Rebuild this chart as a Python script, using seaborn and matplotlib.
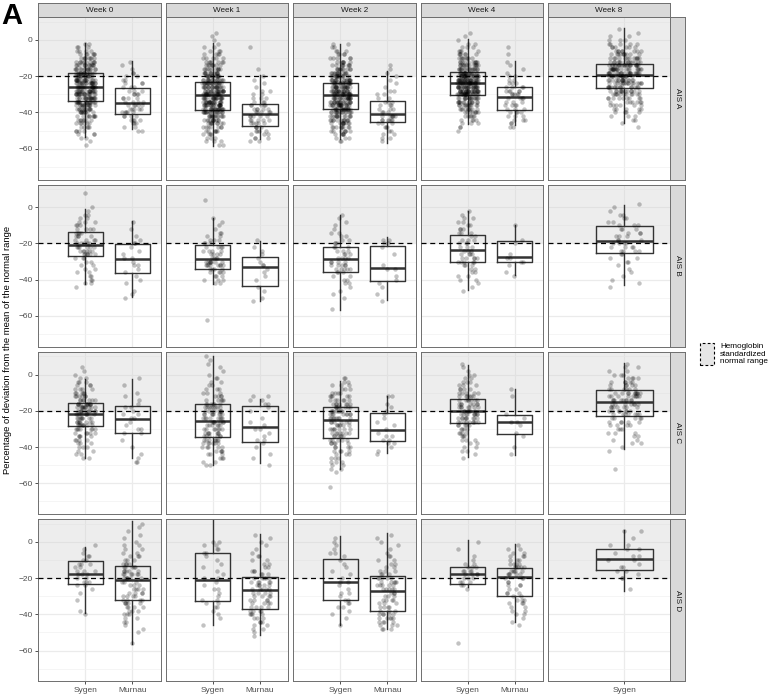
import numpy as np
import pandas as pd
import matplotlib
matplotlib.use("Agg")
import matplotlib.pyplot as plt
from matplotlib.patches import Rectangle
import seaborn as sns

weeks = ["Week 0", "Week 1", "Week 2", "Week 4", "Week 8"]
ais_levels = ["AIS A", "AIS B", "AIS C", "AIS D"]
drugs = ["Sygen", "Murnau"]
normal_low = -20
ylabel = "Percentage of deviation from the mean of the normal range"
legend_label = "Hemoglobin\nstandardized\nnormal range"

# box statistics per week: [lower whisker, q1, median, q3, upper whisker]
a_sygen_box = [[-53.8, -33.9, -25.8, -18.4, -1.5],
               [-58.4, -38.5, -30.6, -23.2, -1.8],
               [-54.9, -37.9, -30.6, -23.9, -2.4],
               [-46.4, -30.6, -23.8, -17.9, 0.4],
               [-46.0, -26.7, -19.2, -13.3, 6.4]]
a_murnau_box = [[-49.3, -41.0, -34.8, -26.3, -11.6],
                [-54.9, -47.3, -41.0, -35.4, -19.2],
                [-57.0, -45.5, -40.9, -33.9, -17.1],
                [-47.0, -38.5, -31.3, -26.1, -11.6]]
b_sygen_box = [[-42.3, -26.9, -21.0, -13.4, -0.9],
               [-42.5, -34.0, -28.3, -21.0, -6.1],
               [-56.5, -35.7, -28.3, -21.9, -4.4],
               [-45.5, -30.0, -23.8, -15.5, -2.0],
               [-43.1, -25.2, -18.4, -10.5, 1.1]]
b_murnau_box = [[-49.5, -36.5, -28.3, -20.4, -7.5],
                [-51.9, -43.6, -32.9, -27.6, -18.8],
                [-51.4, -40.9, -33.7, -21.5, -16.6],
                [-37.2, -30.0, -27.4, -18.8, -9.9]]
c_sygen_box = [[-46.2, -28.2, -21.5, -15.8, -2.6],
               [-50.1, -34.4, -25.6, -16.4, 10.1],
               [-52.1, -35.0, -25.0, -17.9, -3.3],
               [-45.7, -26.9, -20.1, -13.6, 5.1],
               [-41.0, -22.7, -15.1, -8.5, 6.4]]
c_murnau_box = [[-46.2, -32.4, -24.7, -17.5, -2.2],
                [-48.6, -37.2, -28.9, -17.5, -13.4],
                [-43.3, -36.6, -30.8, -21.0, -11.6],
                [-44.2, -32.8, -26.3, -22.1, -7.9]]
d_sygen_box = [[-39.1, -23.4, -17.7, -10.7, -2.8],
               [-45.9, -32.4, -21.0, -6.3, 14.0],
               [-46.0, -32.0, -22.0, -9.4, 3.0],
               [-25.0, -23.0, -17.7, -14.0, 1.0],
               [-26.9, -15.6, -9.6, -3.7, 6.5]]
d_murnau_box = [[-56.5, -32.2, -21.2, -13.3, 11.6],
                [-51.4, -37.0, -26.5, -19.2, 4.2],
                [-48.0, -38.0, -27.0, -19.0, 5.0],
                [-44.2, -30.0, -19.5, -14.2, -1.3]]

# individual patients, read as counts per 2-point step starting at *_start
a_sygen_start = [-58, -58, -56, -50, -48]
a_sygen_counts = [
    [1, 1, 2, 3, 4, 5, 6, 7, 9, 10, 12, 14, 18, 19, 19, 19, 19, 19, 19, 18, 16, 14, 12, 10, 8, 6, 4, 3, 2],
    [2, 3, 3, 4, 6, 7, 9, 11, 14, 17, 20, 20, 20, 20, 20, 20, 20, 20, 16, 14, 12, 10, 8, 7, 5, 4, 3, 2, 1, 1, 1, 1],
    [2, 3, 5, 7, 9, 10, 12, 13, 15, 20, 20, 20, 20, 20, 20, 20, 20, 17, 15, 12, 10, 8, 6, 5, 4, 3, 2, 2],
    [1, 2, 3, 4, 6, 8, 10, 12, 14, 16, 27, 27, 26, 27, 27, 26, 18, 16, 13, 10, 8, 6, 4, 3, 2, 1, 1, 1],
    [1, 1, 2, 3, 4, 5, 6, 7, 9, 11, 13, 16, 16, 16, 15, 21, 21, 21, 14, 12, 10, 8, 6, 5, 3, 2, 1, 1]]
a_murnau_start = [-50, -56, -56, -48]
a_murnau_counts = [
    [2, 2, 3, 4, 4, 5, 5, 5, 4, 4, 4, 3, 3, 3, 2, 2, 2, 1, 1, 1],
    [2, 3, 3, 4, 4, 5, 5, 5, 5, 5, 5, 3, 3, 2, 2, 1, 1, 1, 1, 0, 1, 0, 0, 0, 0, 0, 1],
    [1, 2, 2, 2, 3, 3, 6, 6, 3, 3, 3, 3, 2, 2, 2, 1, 1, 1, 1, 1, 1, 1],
    [2, 2, 3, 3, 4, 3, 4, 3, 4, 5, 5, 4, 3, 2, 2, 1, 1, 1, 1, 0, 1, 0, 1]]
b_sygen_start = [-44, -62, -56, -46, -44]
b_sygen_counts = [
    [1, 2, 2, 2, 2, 2, 2, 2, 3, 6, 6, 6, 5, 4, 4, 4, 4, 3, 3, 2, 2, 1, 1, 0, 0, 0, 1],
    [1, 0, 0, 0, 0, 0, 0, 0, 0, 0, 2, 3, 3, 4, 4, 8, 8, 4, 4, 4, 4, 3, 3, 2, 2, 1, 1, 1, 1, 0, 0, 0, 0, 1],
    [1, 0, 0, 1, 1, 1, 1, 2, 2, 2, 3, 5, 5, 4, 4, 3, 3, 3, 3, 2, 2, 2, 1, 1, 1, 1, 1],
    [1, 1, 1, 2, 2, 2, 2, 3, 5, 5, 4, 3, 3, 3, 3, 2, 3, 3, 2, 2, 2, 1, 1],
    [1, 1, 1, 1, 1, 1, 1, 2, 2, 2, 4, 4, 4, 3, 3, 3, 3, 3, 2, 2, 2, 1, 1, 1]]
b_murnau_start = [-50, -52, -52, -38]
b_murnau_counts = [
    [1, 1, 1, 0, 1, 1, 1, 1, 1, 2, 1, 2, 1, 1, 1, 2, 1, 1, 0, 1, 0, 1],
    [1, 1, 0, 1, 1, 0, 1, 1, 1, 1, 2, 1, 1, 1, 1, 1, 0, 1],
    [1, 0, 1, 0, 1, 1, 1, 1, 0, 2, 1, 0, 0, 1, 0, 1, 2, 2],
    [1, 1, 0, 1, 2, 2, 1, 0, 0, 1, 1, 0, 0, 0, 1]]
c_sygen_start = [-46, -50, -62, -46, -52]
c_sygen_counts = [
    [2, 2, 2, 3, 3, 4, 4, 5, 7, 8, 8, 8, 8, 11, 11, 11, 7, 6, 5, 4, 3, 3, 2, 1, 1, 1],
    [2, 2, 3, 3, 4, 5, 6, 7, 6, 7, 7, 6, 7, 8, 8, 8, 8, 6, 5, 4, 3, 3, 2, 2, 2, 1, 1, 1, 1, 1, 1],
    [1, 0, 0, 0, 1, 2, 2, 3, 3, 3, 4, 4, 5, 5, 6, 7, 7, 6, 6, 8, 8, 8, 8, 7, 6, 5, 4, 3, 3, 2, 2],
    [1, 1, 2, 2, 2, 3, 3, 4, 4, 5, 9, 9, 9, 7, 7, 7, 7, 6, 5, 4, 3, 3, 2, 2, 1, 1, 1],
    [1, 0, 0, 0, 0, 1, 1, 2, 2, 2, 3, 3, 4, 5, 5, 7, 7, 7, 7, 9, 9, 10, 6, 5, 5, 4, 3, 2, 2, 1]]
c_murnau_start = [-48, -50, -44, -44]
c_murnau_counts = [
    [2, 1, 1, 0, 1, 0, 1, 0, 2, 2, 1, 1, 2, 2, 1, 2, 1, 1, 1, 1, 0, 1, 0, 1],
    [1, 0, 1, 1, 0, 1, 1, 2, 1, 1, 2, 1, 1, 1, 0, 1, 1, 2, 2, 2],
    [1, 1, 1, 2, 2, 2, 1, 1, 1, 1, 1, 1, 1, 1, 1, 0, 2],
    [1, 0, 1, 0, 0, 1, 1, 0, 1, 2, 1, 1, 0, 0, 0, 0, 1, 0, 1]]
d_sygen_start = [-40, -46, -46, -56, -26]
d_sygen_counts = [
    [1, 1, 0, 0, 1, 0, 1, 1, 2, 3, 2, 3, 3, 2, 3, 2, 2, 1, 1, 1],
    [1, 0, 1, 1, 1, 2, 2, 2, 1, 1, 2, 1, 1, 2, 1, 1, 1, 1, 1, 1, 2, 2, 2, 2],
    [1, 0, 1, 1, 1, 2, 2, 2, 1, 2, 1, 1, 2, 1, 1, 1, 1, 1, 1, 1, 2, 1, 1, 1, 1, 0],
    [1, 0, 0, 0, 0, 0, 0, 0, 0, 0, 0, 0, 0, 0, 0, 1, 2, 3, 3, 4, 4, 3, 2, 1, 1, 0, 1, 0, 1],
    [1, 0, 0, 2, 1, 2, 2, 1, 2, 2, 1, 2, 2, 0, 1, 0, 2]]
d_murnau_start = [-56, -52, -48, -46]
d_murnau_counts = [
    [1, 0, 0, 1, 1, 1, 2, 2, 3, 3, 4, 5, 4, 4, 4, 4, 3, 3, 6, 6, 5, 5, 4, 3, 3, 2, 2, 2, 1, 1, 1, 1, 1, 1],
    [1, 1, 2, 2, 3, 3, 4, 4, 4, 4, 4, 4, 4, 5, 5, 5, 5, 3, 3, 2, 2, 2, 2, 1, 1, 1, 1, 1, 1],
    [3, 3, 4, 5, 5, 3, 4, 3, 4, 3, 3, 5, 5, 5, 5, 3, 3, 2, 2, 2, 2, 1, 1, 1, 1, 1, 1],
    [1, 1, 1, 2, 2, 2, 3, 3, 2, 3, 2, 3, 2, 3, 5, 5, 5, 4, 3, 3, 2, 2, 1]]

boxes = {"AIS A": (a_sygen_box, a_murnau_box), "AIS B": (b_sygen_box, b_murnau_box),
         "AIS C": (c_sygen_box, c_murnau_box), "AIS D": (d_sygen_box, d_murnau_box)}
points = {"AIS A": (a_sygen_start, a_sygen_counts, a_murnau_start, a_murnau_counts),
          "AIS B": (b_sygen_start, b_sygen_counts, b_murnau_start, b_murnau_counts),
          "AIS C": (c_sygen_start, c_sygen_counts, c_murnau_start, c_murnau_counts),
          "AIS D": (d_sygen_start, d_sygen_counts, d_murnau_start, d_murnau_counts)}


def expand(start, counts):
    values = start + 2 * np.arange(len(counts))
    return np.repeat(values, counts)


def box_dict(s):
    return dict(whislo=s[0], q1=s[1], med=s[2], q3=s[3], whishi=s[4], fliers=[])


plt.rcParams["font.family"] = ["Liberation Sans", "DejaVu Sans"]
np.random.seed(3)

W, H = 771, 696
fig = plt.figure(figsize=(W / 100, H / 100), dpi=100)


def frac(x0, y0, w, h):
    return [x0 / W, 1 - (y0 + h) / H, w / W, h / H]


panel_w, panel_h = 122.4, 162.2
col_x = [38.3 + k * (panel_w + 5.0) for k in range(5)]
row_y = [17.3 + r * (panel_h + 5.1) for r in range(4)]
line_col = "#333333"
frame_col = "#6E6E6E"

for r, ais in enumerate(ais_levels):
    sy_box, mu_box = boxes[ais]
    sy_start, sy_counts, mu_start, mu_counts = points[ais]
    for c, week in enumerate(weeks):
        ax = fig.add_axes(frac(col_x[c], row_y[r], panel_w, panel_h))
        groups = ["Sygen"] if c == 4 else drugs
        sy = expand(sy_start[c], sy_counts[c])
        vals, labs = list(sy), ["Sygen"] * len(sy)
        stats = [box_dict(sy_box[c])]
        if c < 4:
            mu = expand(mu_start[c], mu_counts[c])
            vals += list(mu)
            labs += ["Murnau"] * len(mu)
            stats.append(box_dict(mu_box[c]))
        df = pd.DataFrame({"drug": labs, "pct": vals})

        ax.axhspan(normal_low, 40, color="#D4D4D4", alpha=0.4, lw=0, zorder=0.6)
        sns.stripplot(data=df, x="drug", y="pct", order=groups, jitter=0.22, size=3.2,
                      color="black", alpha=0.24, linewidth=0, zorder=3, ax=ax)
        ax.bxp(stats, positions=range(len(groups)), widths=0.75, showfliers=False,
               showcaps=False, manage_ticks=False,
               boxprops=dict(color=line_col, lw=1.0),
               whiskerprops=dict(color=line_col, lw=1.0),
               medianprops=dict(color=line_col, lw=1.8))
        ax.axhline(normal_low, color="black", ls=(0, (4, 3)), lw=0.9, zorder=4)

        ax.set_xlim(-1.0, len(groups) - 0.4)
        ax.set_ylim(-77, 12.5)
        ax.set_yticks([0, -20, -40, -60])
        ax.set_yticks([10, -10, -30, -50, -70], minor=True)
        ax.set_axisbelow(True)
        ax.grid(which="major", color="#EBEBEB", lw=0.9)
        ax.grid(which="minor", axis="y", color="#F2F2F2", lw=0.5)
        ax.set_xlabel("")
        ax.set_ylabel("")
        for sp in ax.spines.values():
            sp.set_color(frame_col)
            sp.set_linewidth(0.7)
        ax.tick_params(which="both", length=2.5, width=0.6, color=line_col,
                       labelsize=6.0, labelcolor="#4D4D4D", pad=1.5)
        ax.tick_params(which="minor", length=0)
        if c > 0:
            ax.tick_params(axis="y", length=0, labelleft=False)
        else:
            ax.set_yticklabels(["0", "\u221220", "\u221240", "\u221260"])
        if r < 3:
            ax.tick_params(axis="x", length=0, labelbottom=False)

        if r == 0:
            sax = fig.add_axes(frac(col_x[c], 2.7, panel_w, 14.6))
            sax.set_facecolor("#D9D9D9")
            sax.set_xticks([])
            sax.set_yticks([])
            for sp in sax.spines.values():
                sp.set_color(frame_col)
                sp.set_linewidth(0.7)
            sax.text(0.5, 0.5, week, ha="center", va="center", fontsize=5.9,
                     color="#1A1A1A", transform=sax.transAxes)
        if c == 4:
            sax = fig.add_axes(frac(670.3, row_y[r], 15.0, panel_h))
            sax.set_facecolor("#D9D9D9")
            sax.set_xticks([])
            sax.set_yticks([])
            for sp in sax.spines.values():
                sp.set_color(frame_col)
                sp.set_linewidth(0.7)
            sax.text(0.5, 0.5, ais, ha="center", va="center", fontsize=5.9,
                     rotation=-90, color="#1A1A1A", transform=sax.transAxes)

fig.text(8 / W, 1 - 349.5 / H, ylabel, rotation=90, ha="center", va="center",
         fontsize=6.8, color="black")
fig.text(1 / W, 1 - 2 / H, "A", ha="left", va="top", fontsize=21, fontweight="bold")

# legend
fig.add_artist(Rectangle((700 / W, 1 - 365 / H), 14 / W, 22 / H, transform=fig.transFigure,
                         facecolor="#E6E6E6", edgecolor="black", ls=(0, (2.5, 2)), lw=0.8))
fig.text(720 / W, 1 - 354 / H, legend_label, ha="left", va="center", fontsize=5.9,
         linespacing=1.1)

fig.savefig("out.png", dpi=100)
